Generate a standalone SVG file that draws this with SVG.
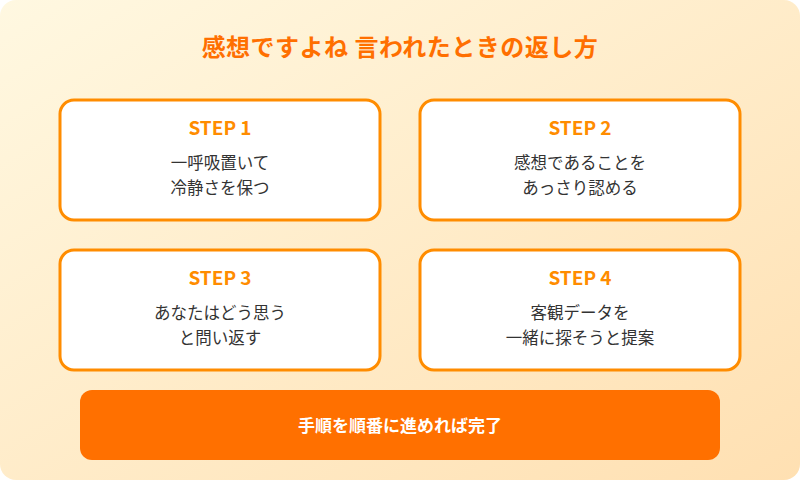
<svg xmlns="http://www.w3.org/2000/svg" width="800" height="480" viewBox="0 0 800 480">
<defs>
<linearGradient id="bg" x1="0" y1="0" x2="1" y2="1">
<stop offset="0" stop-color="#FFF8E1"/><stop offset="1" stop-color="#FFE0B2"/>
</linearGradient>
<style>
text{font-family:"Noto Sans CJK JP","Noto Sans",sans-serif;text-anchor:middle}
.box{fill:#fff;stroke:#FF8C00;stroke-width:3}
.step{fill:#FF8C00;font-size:19px;font-weight:bold}
.body{fill:#333;font-size:16.5px}
</style>
</defs>
<rect width="800" height="480" rx="16" fill="url(#bg)"/>
<text x="400" y="56" fill="#FF6F00" font-size="24" font-weight="bold" letter-spacing="0.5">感想ですよね 言われたときの返し方</text>
<g id="step1"><rect class="box" x="60" y="100" width="320" height="120" rx="14"/>
<text class="step" x="220" y="135">STEP 1</text><text class="body" x="220" y="169">一呼吸置いて</text><text class="body" x="220" y="194">冷静さを保つ</text></g>
<g id="step2"><rect class="box" x="420" y="100" width="320" height="120" rx="14"/>
<text class="step" x="580" y="135">STEP 2</text><text class="body" x="580" y="169">感想であることを</text><text class="body" x="580" y="194">あっさり認める</text></g>
<g id="step3"><rect class="box" x="60" y="250" width="320" height="120" rx="14"/>
<text class="step" x="220" y="285">STEP 3</text><text class="body" x="220" y="319">あなたはどう思う</text><text class="body" x="220" y="344">と問い返す</text></g>
<g id="step4"><rect class="box" x="420" y="250" width="320" height="120" rx="14"/>
<text class="step" x="580" y="285">STEP 4</text><text class="body" x="580" y="319">客観データを</text><text class="body" x="580" y="344">一緒に探そうと提案</text></g>
<g id="final"><rect x="80" y="390" width="640" height="70" rx="12" fill="#FF7000"/>
<text x="400" y="432" fill="#fff" font-size="17" font-weight="bold">手順を順番に進めれば完了</text></g>
<g id="connectors"/>
</svg>
